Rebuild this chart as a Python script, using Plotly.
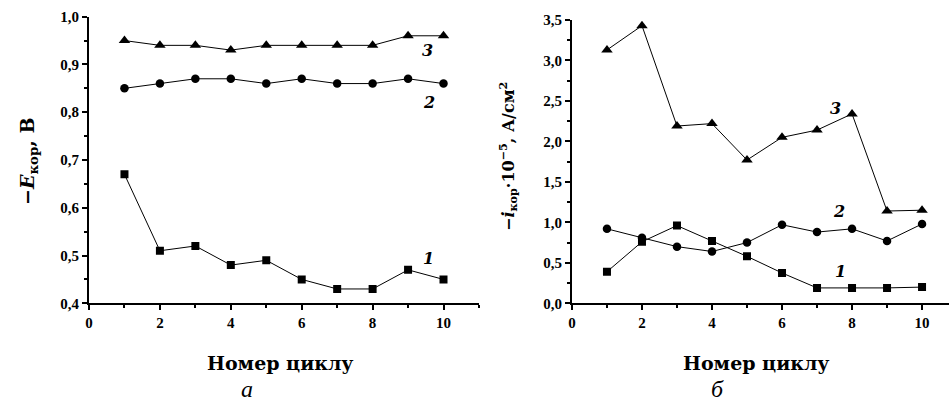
import plotly.graph_objects as go

cycles = [1, 2, 3, 4, 5, 6, 7, 8, 9, 10]

# Panel a: -E_kor, V
e_series1 = [0.67, 0.51, 0.52, 0.48, 0.49, 0.45, 0.43, 0.43, 0.47, 0.45]
e_series2 = [0.85, 0.86, 0.87, 0.87, 0.86, 0.87, 0.86, 0.86, 0.87, 0.86]
e_series3 = [0.95, 0.94, 0.94, 0.93, 0.94, 0.94, 0.94, 0.94, 0.96, 0.96]

# Panel b: -i_kor * 10^-5, A/cm^2
i_series1 = [0.39, 0.76, 0.96, 0.77, 0.58, 0.375, 0.19, 0.19, 0.19, 0.20]
i_series2 = [0.92, 0.81, 0.70, 0.64, 0.75, 0.97, 0.88, 0.92, 0.77, 0.98]
i_series3 = [3.13, 3.43, 2.19, 2.22, 1.77, 2.05, 2.14, 2.34, 1.14, 1.15]

curve_labels = ["1", "2", "3"]
label_pos_a = [(9.58, 0.494), (9.58, 0.82), (9.55, 0.929)]
label_pos_b = [(7.66, 0.39), (7.64, 1.14), (7.52, 2.41)]

symbols = ["square", "circle", "triangle-up"]
sizes = [8, 8.5, 10]

SERIF = "DejaVu Serif"
TICKSERIF = "Liberation Serif"

fig = go.Figure()

for ys, sym, sz in zip([e_series1, e_series2, e_series3], symbols, sizes):
    fig.add_trace(go.Scatter(x=cycles, y=ys, mode="lines+markers",
                             line=dict(color="black", width=1),
                             marker=dict(symbol=sym, size=sz, color="black"),
                             xaxis="x", yaxis="y", showlegend=False))
for ys, sym, sz in zip([i_series1, i_series2, i_series3], symbols, sizes):
    fig.add_trace(go.Scatter(x=cycles, y=ys, mode="lines+markers",
                             line=dict(color="black", width=1),
                             marker=dict(symbol=sym, size=sz, color="black"),
                             xaxis="x2", yaxis="y2", showlegend=False))

tickfont = dict(family=TICKSERIF, size=15, color="black", weight="bold")
common = dict(showline=True, linecolor="black", linewidth=2, ticks="outside",
              ticklen=5, tickwidth=1.5, tickcolor="black", showgrid=False,
              zeroline=False, tickfont=tickfont, mirror=False, automargin=False)

fig.update_layout(
    width=949, height=403, autosize=False,
    margin=dict(l=0, r=0, t=0, b=0, pad=0, autoexpand=False),
    paper_bgcolor="white", plot_bgcolor="white",
    separators=", ",
    font=dict(family=SERIF, color="black"),
    xaxis=dict(domain=[0.0938, 0.5047], range=[0, 11], dtick=2, tick0=0,
               minor=dict(dtick=1, ticks="outside", ticklen=3, tickcolor="black"),
               anchor="y", **common),
    yaxis=dict(domain=[0.2474, 0.9586], range=[0.4, 1.0], dtick=0.1, tick0=0.4,
               tickformat=".1f",
               minor=dict(dtick=0.05, ticks="outside", ticklen=3, tickcolor="black"),
               anchor="x", **common),
    xaxis2=dict(domain=[0.6027, 1.0], range=[0, 10.77], dtick=2, tick0=0,
                minor=dict(dtick=1, ticks="outside", ticklen=3, tickcolor="black"),
                anchor="y2", **common),
    yaxis2=dict(domain=[0.2474, 0.9504], range=[0, 3.5], dtick=0.5, tick0=0,
                tickformat=".1f",
                minor=dict(dtick=0.25, ticks="outside", ticklen=3, tickcolor="black"),
                anchor="x2", **common),
)

ann = []
lab_font = dict(family=SERIF, size=16, color="black", weight="bold", style="italic")
for t, (x, y) in zip(curve_labels, label_pos_a):
    ann.append(dict(text=t, x=x, y=y, xref="x", yref="y", showarrow=False, font=lab_font,
                    xanchor="center", yanchor="middle"))
for t, (x, y) in zip(curve_labels, label_pos_b):
    ann.append(dict(text=t, x=x, y=y, xref="x2", yref="y2", showarrow=False, font=lab_font,
                    xanchor="center", yanchor="middle"))

title_font = dict(family=SERIF, size=19, color="black", weight="bold")
for xc in (280, 756):
    ann.append(dict(text="Номер циклу", x=xc/949, y=1-363/403, xref="paper", yref="paper",
                    showarrow=False, font=title_font, xanchor="center", yanchor="middle"))
sub_font = dict(family=TICKSERIF, size=24, color="black", style="italic")
for t, xc in (("а", 247), ("б", 717)):
    ann.append(dict(text=t, x=xc/949, y=1-389/403, xref="paper", yref="paper",
                    showarrow=False, font=sub_font, xanchor="center", yanchor="middle"))

ann.append(dict(text="−<i>E</i><sub>кор</sub>, В", x=28/949, y=1-162/403,
                xref="paper", yref="paper", showarrow=False, textangle=-90,
                font=dict(family=SERIF, size=19, color="black", weight="bold"),
                xanchor="center", yanchor="middle"))
ann.append(dict(text="−<i>i</i><sub>кор</sub>·10<sup>−5</sup>, А/см<sup>2</sup>", x=508/949, y=1-157/403,
                xref="paper", yref="paper", showarrow=False, textangle=-90,
                font=dict(family=SERIF, size=16, color="black", weight="bold"),
                xanchor="center", yanchor="middle"))

fig.update_layout(annotations=ann)

fig.write_html("out.html", config={"displayModeBar": False},
               post_script="document.body.style.margin='0';")
